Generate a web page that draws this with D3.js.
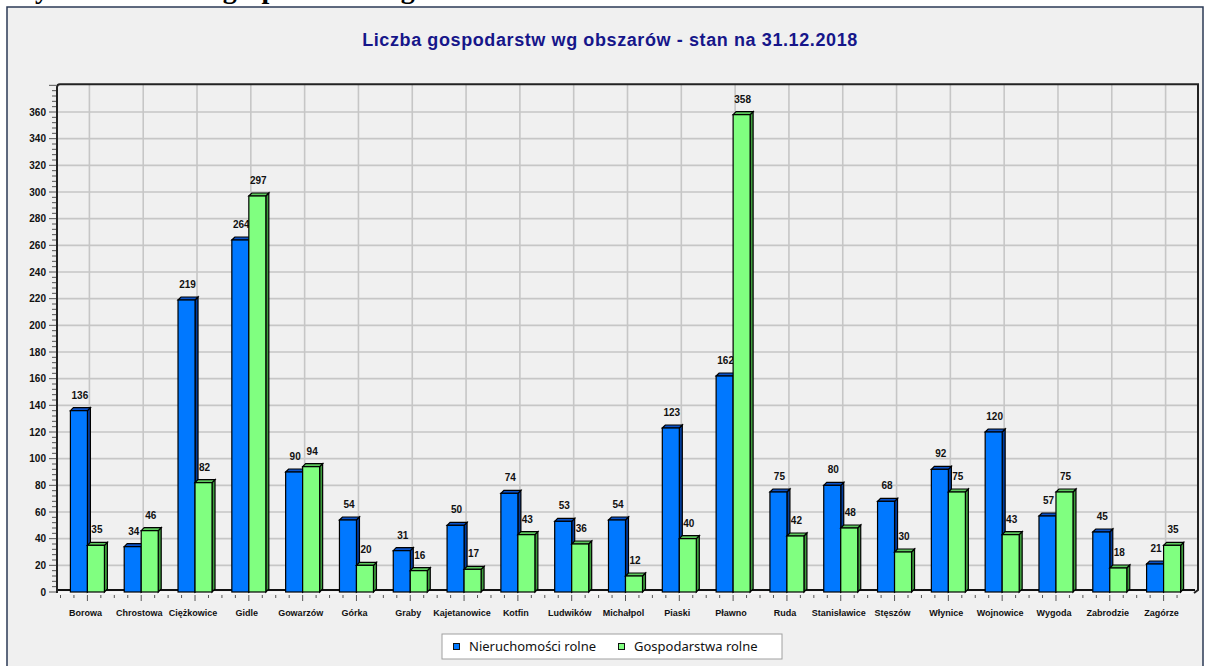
<!DOCTYPE html>
<html>
<head>
<meta charset="utf-8">
<script src="https://cdn.jsdelivr.net/npm/d3@7"></script>
<style>
  body { margin: 0; background: #fff; }
  svg { display: block; }
</style>
</head>
<body>
<div id="chart"></div>
<script>
var categories = ["Borowa", "Chrostowa", "Ciężkowice", "Gidle", "Gowarzów", "Górka", "Graby",
    "Kajetanowice", "Kotfin", "Ludwików", "Michałpol", "Piaski", "Pławno", "Ruda",
    "Stanisławice", "Stęszów", "Włynice", "Wojnowice", "Wygoda", "Zabrodzie", "Zagórze"];
var nieruchomosci = [136, 34, 219, 264, 90, 54, 31, 50, 74, 53, 54, 123, 162, 75, 80, 68, 92, 120, 57, 45, 21];
var gospodarstwa = [35, 46, 82, 297, 94, 20, 16, 17, 43, 36, 12, 40, 358, 42, 48, 30, 75, 43, 75, 18, 35];
var seriesNames = ["Nieruchomości rolne", "Gospodarstwa rolne"];
var yTicks = d3.range(0, 361, 20);

var width = 1205, height = 666,
    dx = 3, dy = 3,          // 3d depth of the bars
    barW = 17,
    colors = {
      blue:  { front: "#0078ff", side: "#003c9c", top: "#0a52c8" },
      green: { front: "#80ff80", side: "#3c9c3c", top: "#5cc85c" }
    };

var svg = d3.select("#chart").append("svg")
    .attr("width", width)
    .attr("height", height);

// header line of the page, mostly cut off above the panel
svg.append("text")
    .attr("x", 8)
    .attr("y", -2)
    .style("font", "bold 28px 'Liberation Serif'")
    .text("Wykres 1. Liczba gospodarstw wg obszarów");

svg.append("rect")
    .attr("x", 7).attr("y", 7)
    .attr("width", 1196).attr("height", 668)
    .attr("fill", "#f0f0f0")
    .attr("stroke", "#2b3a55")
    .attr("stroke-width", 1.5);

svg.append("text")
    .attr("x", 610)
    .attr("y", 46)
    .attr("text-anchor", "middle")
    .attr("fill", "#16168a")
    .style("font", "bold 18px 'Liberation Sans'")
    .style("letter-spacing", "0.6px")
    .text("Liczba gospodarstw wg obszarów - stan na 31.12.2018");

var x = d3.scaleBand().domain(categories).range([60.5, 1190.5]);
var y = d3.scaleLinear().domain([0, 360]).range([592, 112]);
var y0 = y(0), yTop = y(380) - 1;

// grid
svg.selectAll(".hgrid")
    .data(yTicks.filter(function(d) { return d > 0; }))
    .enter().append("line")
    .attr("x1", 58).attr("x2", 1197)
    .attr("y1", function(d) { return y(d); })
    .attr("y2", function(d) { return y(d); })
    .attr("stroke", "#c6c6c6")
    .attr("stroke-width", 1.6);

svg.selectAll(".vgrid")
    .data(categories)
    .enter().append("line")
    .attr("x1", function(d) { return x(d) + x.bandwidth() / 2 + 2; })
    .attr("x2", function(d) { return x(d) + x.bandwidth() / 2 + 2; })
    .attr("y1", yTop).attr("y2", y0 - 3)
    .attr("stroke", "#c6c6c6")
    .attr("stroke-width", 1.6);

// frame / floor
svg.append("line")
    .attr("x1", 57).attr("x2", 1195)
    .attr("y1", y0 - 2).attr("y2", y0 - 2)
    .attr("stroke", "#111").attr("stroke-width", 2);
svg.append("line")
    .attr("x1", 57).attr("x2", 1192)
    .attr("y1", y0 + 1).attr("y2", y0 + 1)
    .attr("stroke", "#fafafa").attr("stroke-width", 1.5);
svg.append("path")
    .attr("d", "M57," + (y0 + 1) + "L57," + (yTop + 3) + "Q57," + yTop + " 60," + yTop +
               "L1198," + yTop + "L1198," + (y0 - 2) + "L1194," + (y0 + 1))
    .attr("fill", "none")
    .attr("stroke", "#222")
    .attr("stroke-width", 2);

// y axis ticks and labels
svg.selectAll(".ytick")
    .data(d3.range(0, 381, 4))
    .enter().append("line")
    .attr("x1", function(d) { return d % 20 === 0 ? 49 : 52; })
    .attr("x2", 56)
    .attr("y1", function(d) { return y(d); })
    .attr("y2", function(d) { return y(d); })
    .attr("stroke", "#555")
    .attr("stroke-width", 1);

svg.selectAll(".yLabel")
    .data(yTicks)
    .enter().append("text")
    .attr("x", 46)
    .attr("y", function(d) { return y(d); })
    .attr("dy", "0.36em")
    .attr("text-anchor", "end")
    .style("font", "bold 10px 'Liberation Sans'")
    .attr("fill", "#111")
    .text(function(d) { return d; });

// x axis ticks (4 per category, longer one at the category centre) and labels
var quarter = [];
categories.forEach(function(c) {
  for (var k = 0; k < 4; k++) quarter.push({ c: c, k: k });
});
svg.selectAll(".xtick")
    .data(quarter)
    .enter().append("line")
    .attr("x1", function(d) { return x(d.c) + x.bandwidth() * d.k / 4; })
    .attr("x2", function(d) { return x(d.c) + x.bandwidth() * d.k / 4; })
    .attr("y1", y0 + 3)
    .attr("y2", function(d) { return d.k === 2 ? y0 + 9 : y0 + 6; })
    .attr("stroke", "#555")
    .attr("stroke-width", 1);

svg.selectAll(".xLabel")
    .data(categories)
    .enter().append("text")
    .attr("x", function(d) { return x(d) + x.bandwidth() / 2 - 2; })
    .attr("y", 616)
    .attr("text-anchor", "middle")
    .style("font", "bold 9px 'Liberation Sans'")
    .attr("fill", "#111")
    .text(function(d) { return d; });

// value labels (drawn under the bars, as in the original)
var rows = categories.map(function(c, i) {
  return { cat: c, a: nieruchomosci[i], b: gospodarstwa[i] };
});

var barX = {
  a: function(d) { return x(d.cat) + x.bandwidth() / 2 - barW; },
  b: function(d) { return x(d.cat) + x.bandwidth() / 2; }
};

["a", "b"].forEach(function(key) {
  svg.selectAll(".val" + key)
      .data(rows)
      .enter().append("text")
      .attr("x", function(d) { return barX[key](d) + barW / 2 + 1; })
      .attr("y", function(d) { return y(d[key]) - 12; })
      .attr("text-anchor", "middle")
      .style("font", "bold 10px 'Liberation Sans'")
      .attr("fill", "#111")
      .text(function(d) { return d[key]; });
});

// 3d bars
function bar(g, x0, v, col) {
  var yv = y(v);
  g.append("path")
      .attr("d", "M" + (x0 + barW) + "," + yv + "L" + (x0 + barW + dx) + "," + (yv - dy) +
                 "L" + (x0 + barW + dx) + "," + (y0 - dy) + "L" + (x0 + barW) + "," + y0 + "Z")
      .attr("fill", col.side).attr("stroke", "#000").attr("stroke-width", 1.2);
  g.append("path")
      .attr("d", "M" + x0 + "," + yv + "L" + (x0 + dx) + "," + (yv - dy) +
                 "L" + (x0 + barW + dx) + "," + (yv - dy) + "L" + (x0 + barW) + "," + yv + "Z")
      .attr("fill", col.top).attr("stroke", "#000").attr("stroke-width", 1.2);
  g.append("rect")
      .attr("x", x0).attr("y", yv)
      .attr("width", barW).attr("height", y0 - yv)
      .attr("fill", col.front).attr("stroke", "#000").attr("stroke-width", 1.2);
}

var groups = svg.selectAll(".grp")
    .data(rows)
    .enter().append("g")
    .attr("class", "grp");

groups.each(function(d) {
  var g = d3.select(this);
  bar(g, barX.a(d), d.a, colors.blue);
  bar(g, barX.b(d), d.b, colors.green);
});

// legend
var legend = svg.append("g").attr("transform", "translate(442,634)");
legend.append("rect")
    .attr("width", 340).attr("height", 25)
    .attr("fill", "#fff")
    .attr("stroke", "#a0a0a0");

var items = [
  { name: seriesNames[0], color: colors.blue.front, x: 11 },
  { name: seriesNames[1], color: colors.green.front, x: 176 }
];
var li = legend.selectAll(".item")
    .data(items)
    .enter().append("g")
    .attr("transform", function(d) { return "translate(" + d.x + ",0)"; });
li.append("rect")
    .attr("x", 0.5).attr("y", 9.5)
    .attr("width", 6).attr("height", 6)
    .attr("fill", function(d) { return d.color; })
    .attr("stroke", "#111");
li.append("text")
    .attr("x", 16)
    .attr("y", 17)
    .style("font", "13px 'Noto Sans'")
    .attr("fill", "#111")
    .text(function(d) { return d.name; });
</script>
</body>
</html>
